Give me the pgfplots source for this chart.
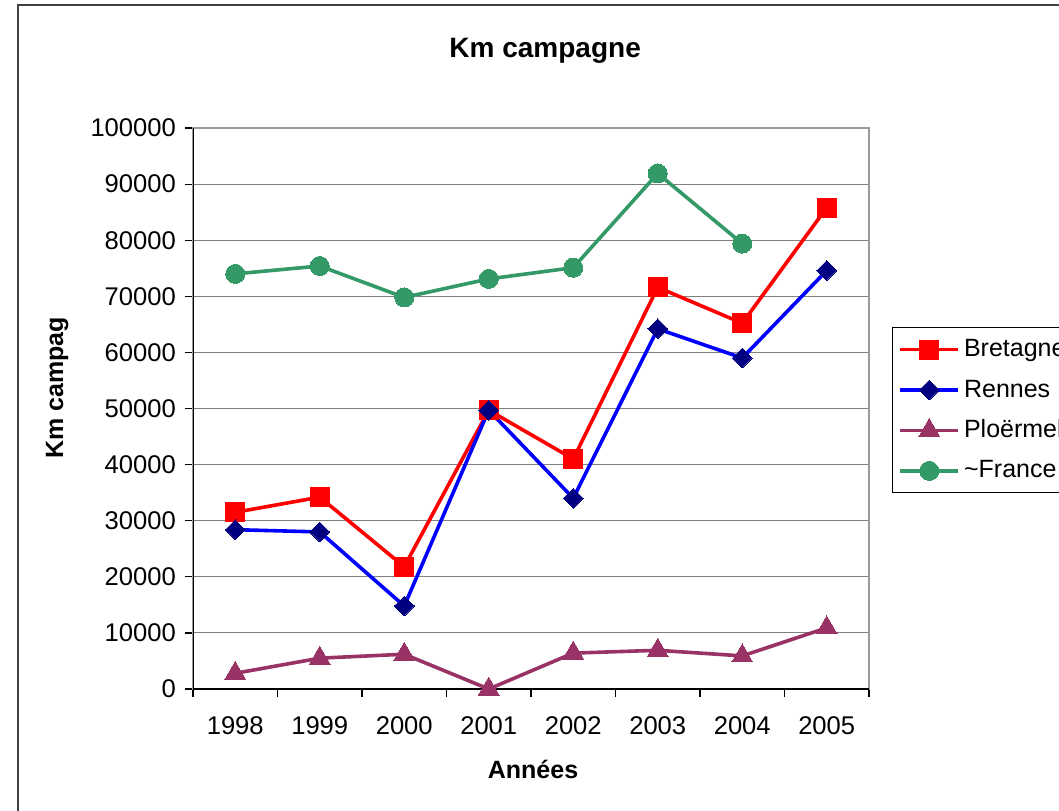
\documentclass[border=0pt]{standalone}
\usepackage{fontspec}
\setmainfont{Liberation Sans}
\usepackage{pgfplots}
\pgfplotsset{compat=1.18}
\definecolor{bret}{HTML}{FF0000}
\definecolor{renline}{HTML}{0000FF}
\definecolor{renmark}{HTML}{000080}
\definecolor{ploer}{HTML}{993366}
\definecolor{france}{HTML}{339966}
\definecolor{gridgray}{HTML}{808080}

\begin{document}
\begin{tikzpicture}
\useasboundingbox (0pt,0pt) rectangle (529.5pt,405pt);
\clip (0pt,0pt) rectangle (529.5pt,405pt);
\fill[white] (0pt,0pt) rectangle (529.5pt,405pt);
\draw[black!75, line width=0.8pt] (9pt,-10pt) rectangle (580pt,402.5pt);
\begin{axis}[
    at={(96.5pt,60.5pt)}, anchor=south west,
    scale only axis, width=338pt, height=280.5pt,
    xmin=-0.5, xmax=7.5,
    ymin=0, ymax=100000,
    xtick={0,...,7},
    xticklabels={1998,1999,2000,2001,2002,2003,2004,2005},
    major x tick style={draw=none},
    minor xtick={-0.5,0.5,...,7.5},
    minor tick length=4pt,
    major tick length=4pt,
    tick align=outside,
    xtick pos=bottom, ytick pos=left,
    ytick={0,10000,...,100000},
    scaled y ticks=false,
    yticklabel style={/pgf/number format/fixed, /pgf/number format/1000 sep={}, xshift=-1pt},
    xticklabel style={yshift=-6.5pt},
    /pgf/number format/assume math mode=true,
    ticklabel style={font=\fontsize{12.8}{14}\selectfont},
    tick style={black, line width=0.6pt},
    ymajorgrids,
    grid style={gridgray, line width=0.5pt},
    axis line style={gridgray!80, line width=0.9pt},
    title={Km campagne},
    title style={font=\bfseries\fontsize{14}{16}\selectfont, at={(axis description cs:0.521,1.117)}, anchor=center},
    xlabel={Années},
    xlabel style={font=\bfseries\fontsize{12.5}{14}\selectfont, at={(axis description cs:0.503,-0.144)}, anchor=center},
    ylabel={Km campag},
    ylabel style={font=\bfseries\fontsize{12.5}{14}\selectfont, at={(axis description cs:-0.201,0.537)}, anchor=center, rotate=0},
    legend style={at={(1.034,0.645)}, anchor=north west, draw=black, line width=0.5pt,
        font=\fontsize{12.5}{14}\selectfont, row sep=4.2pt, inner sep=3pt,
        nodes={text height=9.5pt, text depth=2.5pt}},
    legend cell align=left,
    legend image code/.code={%
        \draw[mark repeat=2, mark phase=2] plot coordinates {(0pt,0pt) (14.5pt,0pt) (29pt,0pt)};},
    every axis plot/.append style={line width=1.8pt},
]
\addplot[color=bret, mark=square*, mark size=4.8pt, mark options={solid, fill=bret, draw=bret, line width=0pt}] coordinates {
(0,31500) (1,34200) (2,21800) (3,49700) (4,41000) (5,71600) (6,65200) (7,85800)
};
\addlegendentry{Bretagne}
\addplot[color=renline, mark=square*, mark size=3.5pt, mark options={solid, rotate=45, fill=renmark, draw=renmark, line width=0pt}] coordinates {
(0,28400) (1,28000) (2,14800) (3,49700) (4,34000) (5,64200) (6,59000) (7,74600)
};
\addlegendentry{Rennes}
\addplot[color=ploer, mark=triangle*, mark size=6pt, mark options={solid, fill=ploer, draw=ploer, line width=0pt}] coordinates {
(0,2800) (1,5500) (2,6200) (3,0) (4,6400) (5,6900) (6,5900) (7,10900)
};
\addlegendentry{Ploërmel}
\addplot[color=france, mark=*, mark size=4.75pt, mark options={solid, fill=france, draw=france, line width=0pt}] coordinates {
(0,74000) (1,75400) (2,69800) (3,73100) (4,75100) (5,91900) (6,79400)
};
\addlegendentry{\textasciitilde France}
\draw[black, line width=0.9pt] (rel axis cs:0,1) -- (rel axis cs:0,0) -- (rel axis cs:1,0);
\end{axis}
\end{tikzpicture}
\end{document}
